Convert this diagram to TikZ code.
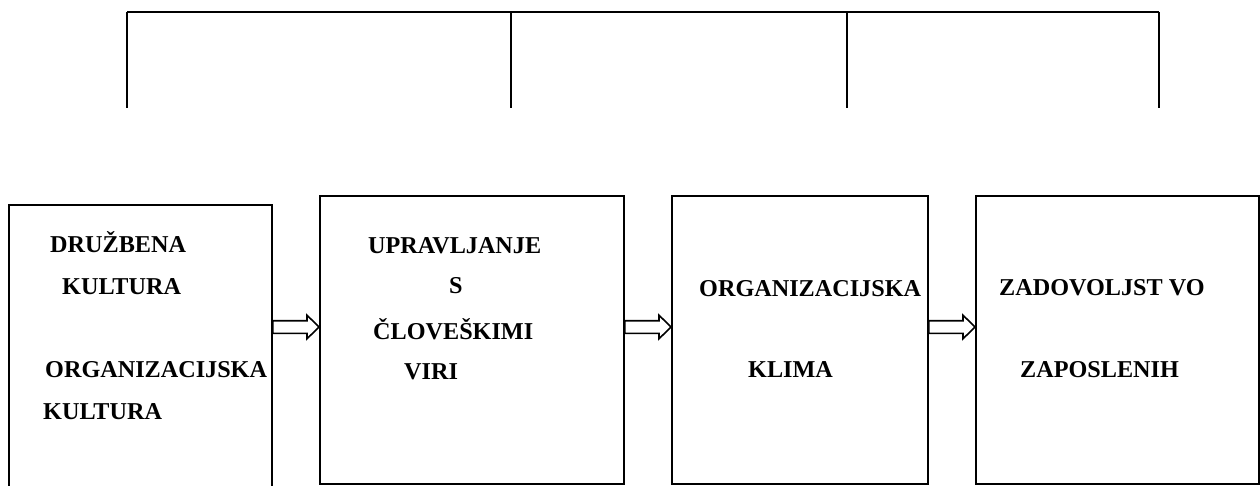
\documentclass[tikz,border=0pt]{standalone}
\usepackage{fontspec}
\setmainfont{Liberation Serif}
\usetikzlibrary{calc}
\tikzset{
  box/.style={draw=black, line width=1.8pt, rectangle, inner sep=0pt, anchor=north west},
  lbl/.style={anchor=base west, inner sep=0pt, font=\fontsize{24.2}{28}\selectfont\bfseries},
  bracket/.style={draw=black, line width=1.6pt},
  hollow/.style={draw=black, line width=1.6pt, fill=white, line join=miter}
}
\newcommand{\hollowarrow}[2]{%
  \draw[hollow] ($(#1)+(0,-6.3)$) -- ($(#2)+(-12,-6.3)$) -- ($(#2)+(-12,-11.8)$) -- (#2)
    -- ($(#2)+(-12,11.8)$) -- ($(#2)+(-12,6.3)$) -- ($(#1)+(0,6.3)$) -- cycle;}
\begin{document}
\begin{tikzpicture}[x=1pt,y=-1pt]
\useasboundingbox (0,0) rectangle (1260,486);
% top bracket
\coordinate (t1) at (127,12);
\coordinate (t2) at (511,12);
\coordinate (t3) at (847,12);
\coordinate (t4) at (1159,12);
\draw[bracket] (t1) -- (t4);
\foreach \t in {t1,t2,t3,t4} \draw[bracket] (\t) -- ++(0,96);
% boxes
\node[box, minimum width=263pt, minimum height=290pt] (b1) at (8,204) {};
\node[box, minimum width=304pt, minimum height=288pt] (b2) at (319,195) {};
\node[box, minimum width=256pt, minimum height=288pt] (b3) at (671,195) {};
\node[box, minimum width=283pt, minimum height=288pt] (b4) at (975,195) {};
% arrows
\coordinate (ay) at (0,327);
\coordinate (a1s) at (b1.east |- ay);
\coordinate (a1e) at (b2.west |- ay);
\coordinate (a2s) at (b2.east |- ay);
\coordinate (a2e) at (b3.west |- ay);
\coordinate (a3s) at (b3.east |- ay);
\coordinate (a3e) at (b4.west |- ay);
\hollowarrow{a1s}{a1e}
\hollowarrow{a2s}{a2e}
\hollowarrow{a3s}{a3e}
% texts
\node[lbl] (l11) at (50,253) {DRUŽBENA};
\node[lbl] (l12) at (62,294) {KULTURA};
\node[lbl] (l13) at (45,377) {ORGANIZACIJSKA};
\node[lbl] (l14) at (43,419) {KULTURA};
\node[lbl] (l21) at (368,254) {UPRAVLJANJE};
\node[lbl] (l22) at (449,293) {S};
\node[lbl] (l23) at (373,339) {ČLOVEŠKIMI};
\node[lbl] (l24) at (404,379) {VIRI};
\node[lbl] (l31) at (699,296) {ORGANIZACIJSKA};
\node[lbl] (l32) at (748,377) {KLIMA};
\node[lbl] (l41) at (999,295) {ZADOVOLJST VO};
\node[lbl] (l42) at (1020,377) {ZAPOSLENIH};
\end{tikzpicture}
\end{document}
